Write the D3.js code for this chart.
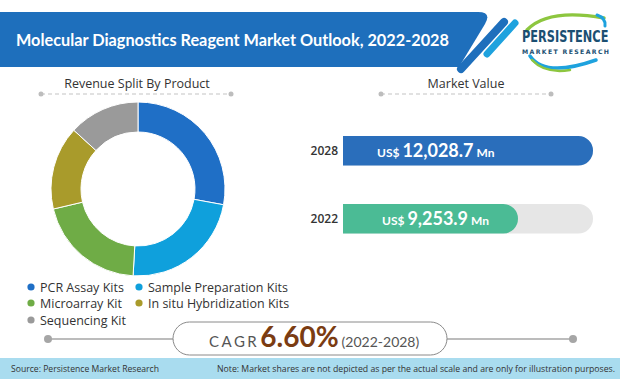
<!DOCTYPE html>
<html>
<head>
<meta charset="utf-8">
<script src="https://cdn.jsdelivr.net/npm/d3@7"></script>
<style>
  body { margin: 0; background: #fff; }
  svg { display: block; }
</style>
</head>
<body>
<svg id="chart" width="620" height="379"></svg>
<script>
// data
const products = ["PCR Assay Kits", "Sample Preparation Kits", "Microarray Kit", "In situ Hybridization Kits", "Sequencing Kit"];
const shares = [27.9, 23.0, 20.4, 15.5, 13.2];
const productColors = ["#1f6fc6", "#0fa0dc", "#6fac46", "#a99b2b", "#9a9a9a"];
const years = ["2028", "2022"];
const marketValues = [12028.7, 9253.9];
const valueLabels = ["12,028.7", "9,253.9"];
const barColors = ["#2a6ebb", "#4bbb95"];
const cagrValue = "6.60%";
const cagrPeriod = "(2022-2028)";

const svg = d3.select("#chart");
const font = "'Open Sans', sans-serif";

// header band
svg.append("path")
    .attr("d", "M0,12 H478 Q492,12 485,24 L459,67 H0 Z")
    .attr("fill", "#1e6fbc");
svg.append("text")
    .attr("x", 16).attr("y", 46)
    .attr("font-family", "Lato, sans-serif")
    .attr("font-weight", "bold")
    .attr("font-size", 17)
    .attr("textLength", 433)
    .attr("lengthAdjust", "spacingAndGlyphs")
    .attr("fill", "#fff")
    .text("Molecular Diagnostics Reagent Market Outlook, 2022-2028");

// slanted stripes
svg.append("line").attr("x1", 504).attr("y1", 22).attr("x2", 461).attr("y2", 69)
    .attr("stroke", "#1e6fbc").attr("stroke-width", 8).attr("stroke-linecap", "round");
svg.append("line").attr("x1", 515).attr("y1", 23).attr("x2", 487).attr("y2", 54)
    .attr("stroke", "#1ea2de").attr("stroke-width", 7).attr("stroke-linecap", "round");

// logo
const logo = svg.append("g");
logo.append("path").attr("d", "M527,30 Q548,8 604,18")
    .attr("fill", "none").attr("stroke", "#8dc63f").attr("stroke-width", 3.5).attr("stroke-linecap", "round");
logo.append("path").attr("d", "M597,15 Q606,18 605,26")
    .attr("fill", "none").attr("stroke", "#1ea2de").attr("stroke-width", 3).attr("stroke-linecap", "round");
logo.append("path").attr("d", "M530,56 Q545,78 596,60")
    .attr("fill", "none").attr("stroke", "#1ea2de").attr("stroke-width", 3.5).attr("stroke-linecap", "round");
logo.append("path").attr("d", "M532,60 Q545,74 570,70")
    .attr("fill", "none").attr("stroke", "#8dc63f").attr("stroke-width", 2.5).attr("stroke-linecap", "round");
logo.append("text")
    .attr("transform", "translate(522,42) scale(0.8,1)")
    .attr("font-family", "'DejaVu Sans Condensed', 'DejaVu Sans', sans-serif")
    .attr("font-weight", "bold")
    .attr("font-size", 15)
    .attr("textLength", 108).attr("lengthAdjust", "spacingAndGlyphs")
    .attr("fill", "#1b4f72")
    .text("PERSISTENCE");
logo.append("text")
    .attr("x", 522).attr("y", 54)
    .attr("font-family", "'DejaVu Sans', sans-serif")
    .attr("font-weight", "bold")
    .attr("font-size", 6.2)
    .attr("textLength", 87).attr("lengthAdjust", "spacing")
    .attr("fill", "#1b4f72")
    .text("MARKET RESEARCH");

// section titles with dotted rules
function sectionTitle(cx, x1, x2, label) {
    svg.append("text")
        .attr("x", cx).attr("y", 88)
        .attr("text-anchor", "middle")
        .attr("font-family", font)
        .attr("font-size", 12.5)
        .attr("fill", "#333")
        .text(label);
    svg.append("line")
        .attr("x1", x1).attr("x2", x2).attr("y1", 94).attr("y2", 94)
        .attr("stroke", "#c4c4c4").attr("stroke-width", 1.2).attr("stroke-dasharray", "4,3");
    [x1, x2].forEach(x => svg.append("circle").attr("cx", x).attr("cy", 94).attr("r", 2.5).attr("fill", "#bdbdbd"));
}
sectionTitle(137, 41, 231, "Revenue Split By Product");
sectionTitle(466, 381, 551, "Market Value");

// donut
const pie = d3.pie().sort(null).value(d => d.share);
const arc = d3.arc().innerRadius(57).outerRadius(87);
const donutData = products.map((p, i) => ({ name: p, share: shares[i], color: productColors[i] }));

svg.append("g")
    .attr("transform", "translate(138,189)")
    .selectAll("path")
    .data(pie(donutData))
    .join("path")
    .attr("d", arc)
    .attr("fill", d => d.data.color)
    .attr("stroke", "#fff")
    .attr("stroke-width", 1);

// legend
const legendPos = [[31, 287], [139, 287], [31, 303], [139, 303], [31, 320]];
const legend = svg.append("g").selectAll("g")
    .data(donutData)
    .join("g")
    .attr("transform", (d, i) => `translate(${legendPos[i][0]},${legendPos[i][1]})`);
legend.append("circle").attr("r", 3.6).attr("fill", d => d.color);
legend.append("text")
    .attr("x", 9).attr("y", 4.5)
    .attr("font-family", font)
    .attr("font-size", 12.5)
    .attr("fill", "#333")
    .text(d => d.name);

// market value bars
const barX0 = 343, trackW = 250;
const x = d3.scaleLinear().domain([2780, d3.max(marketValues)]).range([0, trackW]);
const y = d3.scaleBand().domain(years).range([136, 233.5]).paddingInner(0.566).paddingOuter(0);
const barData = years.map((yr, i) => ({ year: yr, value: marketValues[i], label: valueLabels[i], color: barColors[i] }));

function roundedRight(x0, y0, w, h) {
    const r = h / 2;
    return `M${x0},${y0} H${x0 + w - r} A${r},${r} 0 0 1 ${x0 + w - r},${y0 + h} H${x0} Z`;
}

const bars = svg.append("g");
bars.selectAll(".track")
    .data(barData)
    .join("path")
    .attr("class", "track")
    .attr("d", d => roundedRight(barX0, y(d.year), trackW, y.bandwidth()))
    .attr("fill", "#e6e6e6");
bars.selectAll(".bar")
    .data(barData)
    .join("path")
    .attr("class", "bar")
    .attr("d", d => roundedRight(barX0, y(d.year), x(d.value), y.bandwidth()))
    .attr("fill", d => d.color);

bars.selectAll(".year")
    .data(barData)
    .join("text")
    .attr("class", "year")
    .attr("x", 338)
    .attr("y", d => y(d.year) + y.bandwidth() / 2 + 4.5)
    .attr("text-anchor", "end")
    .attr("font-family", font)
    .attr("font-weight", 600)
    .attr("font-size", 12)
    .attr("fill", "#333")
    .text(d => d.year);

const valueText = bars.selectAll(".val")
    .data(barData)
    .join("text")
    .attr("class", "val")
    .attr("x", (d, i) => i === 0 ? 377 : 382)
    .attr("y", d => y(d.year) + y.bandwidth() / 2 + 6.5)
    .attr("font-family", "Lato, sans-serif")
    .attr("font-weight", "bold")
    .attr("fill", "#fff");
valueText.append("tspan").attr("font-size", 12).text("US$ ");
valueText.append("tspan").attr("font-size", 18).text(d => d.label);
valueText.append("tspan").attr("font-size", 12).text(" Mn");

// CAGR pill
svg.append("line").attr("x1", 48).attr("x2", 573).attr("y1", 339).attr("y2", 339)
    .attr("stroke", "#a6a6a6").attr("stroke-width", 1.3);
[48, 573].forEach(cx => svg.append("circle").attr("cx", cx).attr("cy", 339).attr("r", 4).attr("fill", "#a6a6a6"));
svg.append("rect")
    .attr("x", 173).attr("y", 322).attr("width", 274).attr("height", 33).attr("rx", 16.5)
    .attr("fill", "#fff").attr("stroke", "#8a8a8a").attr("stroke-width", 1);
const cagrText = svg.append("text")
    .attr("x", 209).attr("y", 347)
    .attr("font-family", "Lato, sans-serif");
cagrText.append("tspan").attr("font-size", 15).attr("letter-spacing", 2.5).attr("fill", "#555").text("CAGR");
cagrText.append("tspan").attr("dx", 1).attr("font-size", 28).attr("font-weight", "bold").attr("fill", "#7b3c12").text(cagrValue);
cagrText.append("tspan").attr("dx", 3).attr("font-size", 14).attr("fill", "#555").text(cagrPeriod);

// footer
svg.append("rect").attr("x", 0).attr("y", 358).attr("width", 620).attr("height", 21).attr("fill", "#a9dcef");
svg.append("text")
    .attr("x", 11).attr("y", 372)
    .attr("font-family", font).attr("font-size", 9).attr("fill", "#333")
    .attr("textLength", 148).attr("lengthAdjust", "spacingAndGlyphs")
    .text("Source: Persistence Market Research");
svg.append("text")
    .attr("x", 217).attr("y", 372)
    .attr("font-family", font).attr("font-size", 8.2).attr("fill", "#333")
    .attr("textLength", 398).attr("lengthAdjust", "spacingAndGlyphs")
    .text("Note: Market shares are not depicted as per the actual scale and are only for illustration purposes.");
</script>
</body>
</html>
